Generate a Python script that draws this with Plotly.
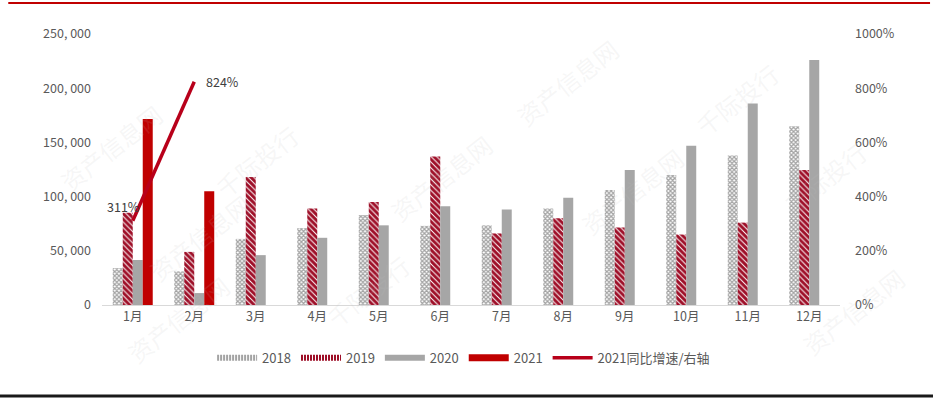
import plotly.graph_objects as go

months = ["1月", "2月", "3月", "4月", "5月", "6月", "7月", "8月", "9月", "10月", "11月", "12月"]
v2018 = [34000, 31000, 61000, 71000, 83000, 73000, 73500, 89000, 106000, 120000, 138000, 165000]
v2019 = [85000, 49000, 118000, 89000, 95000, 137000, 66000, 80000, 71500, 65000, 76000, 124500]
v2020 = [41500, 11000, 46000, 62000, 73500, 91000, 88000, 99000, 124500, 147000, 186000, 226000]
v2021 = [171500, 105000]
yoy2021 = [311, 824]
left_ticks = [0, 50000, 100000, 150000, 200000, 250000]
left_labels = ["0", "50, 000", "100, 000", "150, 000", "200, 000", "250, 000"]
right_ticks = [0, 200, 400, 600, 800, 1000]
right_labels = ["0%", "200%", "400%", "600%", "800%", "1000%"]

FONT = "Noto Sans CJK SC"
GRAY_TXT = "#595959"
RED = "#C00000"
C2018 = "#a3a3a3"
C2019 = "#9E0F28"
C2020 = "#A6A6A6"

fig = go.Figure()
fig.add_bar(name="2018", x=months, y=v2018, legendgroup="a", showlegend=False,
            marker=dict(color="white", line=dict(width=0),
                        pattern=dict(shape="x", size=3, solidity=0.65, fgopacity=1,
                                     fgcolor=C2018, bgcolor="white")))
fig.add_bar(name="2019", x=months, y=v2019, legendgroup="b", showlegend=False,
            marker=dict(color="white", line=dict(width=0),
                        pattern=dict(shape="\\", size=4, solidity=0.75, fgopacity=1,
                                     fgcolor=C2019, bgcolor="white")))
fig.add_bar(name="2020", x=months, y=v2020, legendgroup="c", showlegend=False,
            marker=dict(color=C2020, line=dict(width=0)))
fig.add_bar(name="2021", x=months[:2], y=v2021, legendgroup="d", showlegend=False,
            marker=dict(color=RED, line=dict(width=0)))
fig.add_scatter(name="2021同比增速/右轴", x=months[:2], y=yoy2021, yaxis="y2",
                mode="lines", line=dict(color="#B8001A", width=3.5), showlegend=False,
                legendgroup="e")

# legend entries (wide rectangular icons like the original)
legend_items = [("2018", C2018, 6, "2px,1px", "a"),
                ("2019", C2019, 6, "2px,1px", "b"),
                ("2020", C2020, 6, "solid", "c"),
                ("2021", RED, 7, "solid", "d"),
                ("2021同比增速/右轴", "#B8001A", 3.5, "solid", "e")]
for nm, col, w, dash, grp in legend_items:
    fig.add_scatter(name=nm, x=[None], y=[None], mode="lines", legendgroup=grp,
                    line=dict(color=col, width=w, dash=dash), showlegend=True)

# data labels for the line
fig.add_annotation(x=months[0], y=yoy2021[0], yref="y2", text=f"{yoy2021[0]}%",
                   showarrow=False, xshift=-9, yshift=14,
                   font=dict(family=FONT, size=12.5, color="#404040"))
fig.add_annotation(x=months[1], y=yoy2021[1], yref="y2", text=f"{yoy2021[1]}%",
                   showarrow=False, xshift=28, yshift=0,
                   font=dict(family=FONT, size=12.5, color="#404040"))

# faint watermark
wm = [("资产信息网", 0.63, 1.02), ("千际投行", 0.93, 0.93), ("资产信息网", -0.07, 0.58),
      ("千际投行", 0.14, 0.70), ("资产信息网", 0.05, 0.05), ("千际投行", 0.36, -0.12),
      ("资产信息网", 0.80, 0.42), ("千际投行", 1.05, 0.30), ("资产信息网", 0.46, 0.47),
      ("资产信息网", 1.10, -0.22), ("资产信息网", 0.02, -0.25)]
for t, xx, yy in wm:
    fig.add_annotation(x=xx, y=yy, xref="paper", yref="paper", text=t, showarrow=False,
                       textangle=-38, font=dict(family=FONT, size=24, color="rgba(190,190,190,0.13)"))

fig.update_layout(
    width=933, height=399,
    margin=dict(l=102, r=93, t=34, b=94),
    paper_bgcolor="white", plot_bgcolor="white",
    barmode="group", bargap=0.35, bargroupgap=0,
    font=dict(family=FONT, size=12, color=GRAY_TXT),
    showlegend=True,
    legend=dict(orientation="h", x=0.49, xanchor="center", y=-0.195, yanchor="middle",
                font=dict(family=FONT, size=13, color=GRAY_TXT),
                itemwidth=40, tracegroupgap=0, traceorder="normal"),
    xaxis=dict(showgrid=False, showline=True, linecolor="#D9D9D9", linewidth=1,
               ticks="", tickfont=dict(family=FONT, size=12.5, color=GRAY_TXT)),
    yaxis=dict(range=[0, 250000], tickvals=left_ticks, ticktext=left_labels,
               showgrid=False, zeroline=False, showline=False, ticks="",
               ticklabelstandoff=10,
               tickfont=dict(family=FONT, size=12.5, color=GRAY_TXT)),
    yaxis2=dict(range=[0, 1000], tickvals=right_ticks, ticktext=right_labels,
                overlaying="y", side="right", showgrid=False, zeroline=False,
                showline=False, ticks="", ticklabelstandoff=14,
                tickfont=dict(family=FONT, size=12.5, color=GRAY_TXT)),
    shapes=[
        dict(type="line", xref="paper", yref="paper", x0=-0.127, x1=1.122, y0=1.114, y1=1.114,
             line=dict(color=RED, width=2)),
        dict(type="line", xref="paper", yref="paper", x0=-0.14, x1=1.14, y0=-0.336, y1=-0.336,
             line=dict(color="#1a1a1a", width=3)),
    ],
)

fig.write_html("out.html", config={"displayModeBar": False},
               post_script="document.body.style.margin='0';document.body.style.padding='0';")
